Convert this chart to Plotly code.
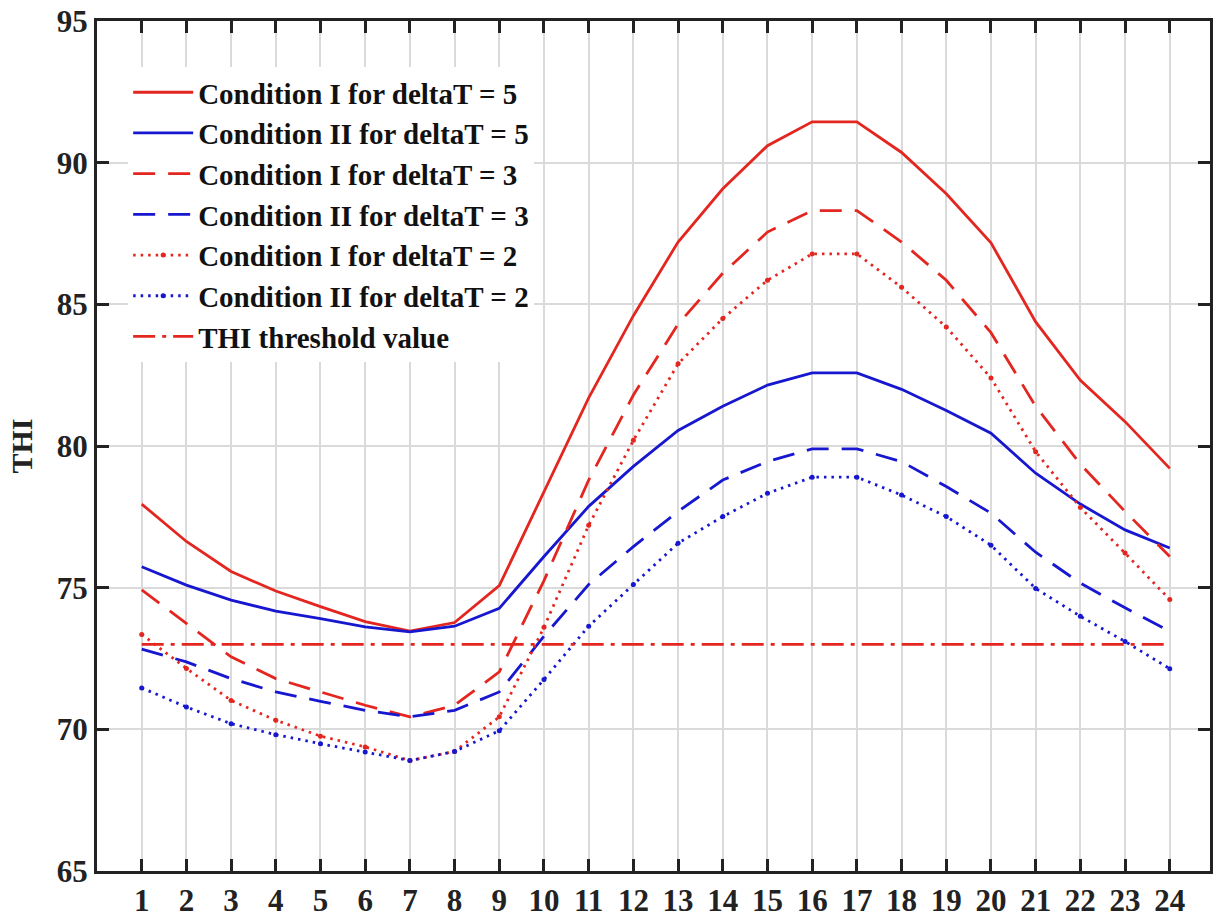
import plotly.graph_objects as go

# Hour of day
hours = list(range(1, 25))

# Temperature-humidity index per hour for each condition / temperature rise
cond1_dt5 = [77.95, 76.63, 75.57, 74.88, 74.33, 73.80, 73.47, 73.77, 75.07, 78.40, 81.70, 84.60,
             87.20, 89.08, 90.60, 91.44, 91.44, 90.36, 88.90, 87.17, 84.38, 82.32, 80.86, 79.21]
cond2_dt5 = [75.74, 75.09, 74.56, 74.17, 73.91, 73.62, 73.44, 73.64, 74.27, 76.10, 77.87, 79.28,
             80.55, 81.40, 82.15, 82.58, 82.58, 82.00, 81.25, 80.45, 79.04, 77.95, 77.04, 76.40]
cond1_dt3 = [74.92, 73.74, 72.56, 71.79, 71.32, 70.85, 70.44, 70.85, 72.03, 75.25, 78.80, 81.80,
             84.30, 86.10, 87.55, 88.31, 88.31, 87.20, 85.85, 84.00, 81.40, 79.36, 77.69, 76.10]
cond2_dt3 = [72.83, 72.38, 71.79, 71.32, 70.99, 70.67, 70.44, 70.67, 71.32, 73.29, 75.11, 76.45,
             77.69, 78.80, 79.45, 79.90, 79.90, 79.45, 78.57, 77.63, 76.25, 75.16, 74.29, 73.46]
cond1_dt2 = [73.35, 72.15, 71.02, 70.32, 69.76, 69.38, 68.90, 69.22, 70.44, 73.60, 77.20, 80.20,
             82.90, 84.50, 85.85, 86.78, 86.78, 85.60, 84.20, 82.40, 79.80, 77.83, 76.22, 74.58]
cond2_dt2 = [71.46, 70.79, 70.20, 69.81, 69.49, 69.20, 68.90, 69.22, 69.95, 71.76, 73.64, 75.11,
             76.57, 77.51, 78.33, 78.90, 78.90, 78.27, 77.51, 76.50, 74.97, 73.99, 73.10, 72.14]
thi_threshold = [73.0] * 24

series_names = [
    "Condition I for deltaT = 5",
    "Condition II for deltaT = 5",
    "Condition I for deltaT = 3",
    "Condition II for deltaT = 3",
    "Condition I for deltaT = 2",
    "Condition II for deltaT = 2",
    "THI threshold value",
]

RED = "#e3261f"
BLUE = "#1717cf"
FONT = "Liberation Serif"

fig = go.Figure()

def add_line(y, name, color, dash, markers=False):
    fig.add_trace(go.Scatter(
        x=hours, y=y, name=name,
        mode="lines+markers" if markers else "lines",
        line=dict(color=color, width=2.8, dash=dash),
        marker=dict(color=color, size=5),
    ))

add_line(cond1_dt5, series_names[0], RED, "solid")
add_line(cond2_dt5, series_names[1], BLUE, "solid")
add_line(cond1_dt3, series_names[2], RED, "22px,13px")
add_line(cond2_dt3, series_names[3], BLUE, "22px,13px")
add_line(cond1_dt2, series_names[4], RED, "2.5px,5px", markers=True)
add_line(cond2_dt2, series_names[5], BLUE, "2.5px,5px", markers=True)
add_line(thi_threshold, series_names[6], RED, "22px,7px,4px,7px")

axis_common = dict(
    showline=True, linecolor="#222222", linewidth=3, mirror="ticks",
    ticks="inside", ticklen=12, tickwidth=3, tickcolor="#222222",
    showgrid=True, gridcolor="#dadada", gridwidth=2, zeroline=False,
    tickfont=dict(family=FONT, size=31, color="#222222", weight="bold"),
)

fig.update_layout(
    width=1217, height=922,
    margin=dict(l=97, r=4, t=20, b=50),
    paper_bgcolor="white", plot_bgcolor="white",
    xaxis=dict(range=[0, 24.9], tickmode="array", tickvals=hours,
               ticktext=[str(h) for h in hours], **axis_common),
    yaxis=dict(range=[65, 95], dtick=5,
               title=dict(text="THI", standoff=16,
                          font=dict(family=FONT, size=30, color="#222222", weight="bold")),
               **axis_common),
    legend=dict(
        x=0.028, y=0.946, xanchor="left", yanchor="top",
        bgcolor="white", borderwidth=0, itemwidth=60,
        font=dict(family=FONT, size=29, color="#111111", weight="bold"),
    ),
)

fig.write_html("out.html")
